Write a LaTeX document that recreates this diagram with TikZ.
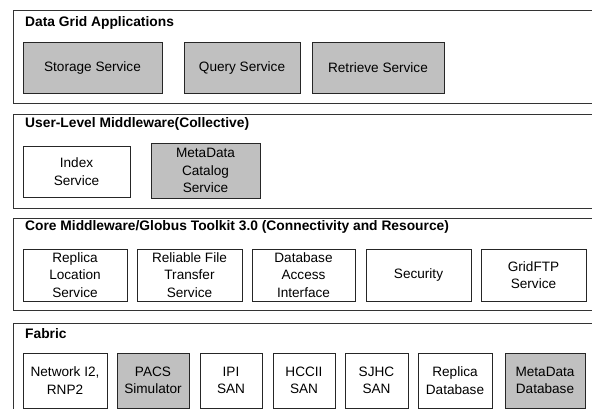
\documentclass[tikz,border=0pt]{standalone}
\usepackage{fontspec}
\setmainfont{Liberation Sans}
\usepackage{tikz}
\usetikzlibrary{backgrounds}
\definecolor{boxgray}{RGB}{192,192,192}
\tikzset{
  layer/.style={draw=black!80, line width=0.9pt, inner sep=0pt},
  layertitle/.style={anchor=west, inner sep=0pt, font=\bfseries\fontsize{13.8}{16}\selectfont},
  svc/.style={draw=black!85, line width=0.8pt, inner sep=0pt, align=center,
    font=\fontsize{13.6}{17.5}\selectfont},
  gsvc/.style={svc, fill=boxgray}
}

\begin{document}
\begin{tikzpicture}[x=1pt,y=-1pt]
\useasboundingbox (0,0) rectangle (592,409);
\clip (0,0) rectangle (592,409);
% the four layers
\node[layer, minimum width=587pt, minimum height=93pt] (apps) at (306.5,56.5) {};
\node[layer, minimum width=587pt, minimum height=94pt] (user) at (306.5,161) {};
\node[layer, minimum width=587pt, minimum height=92pt] (core) at (306.5,264.5) {};
\node[layer, minimum width=587pt, minimum height=98pt] (fabric) at (306.5,372) {};
\node[layertitle] (appst) at (25,23) {Data Grid Applications};
\node[layertitle] (usert) at (25,124) {User-Level Middleware(Collective)};
\node[layertitle] (coret) at (25,227) {Core Middleware/Globus Toolkit 3.0 (Connectivity and Resource)};
\node[layertitle] (fabrict) at (25,334) {Fabric};
% applications
\node[gsvc, minimum width=139pt, minimum height=51pt] (storage) at (92.5,67.5) {Storage Service};
\node[gsvc, minimum width=116pt, minimum height=51pt] (query) at (242,67.5) {Query Service};
\node[gsvc, minimum width=132pt, minimum height=51pt] (retrieve) at (378,67.5) {Retrieve Service};
% collective
\node[svc, minimum width=107pt, minimum height=51pt] (index) at (76.5,171.5) {Index\\Service};
\node[gsvc, minimum width=109pt, minimum height=55pt] (mdcat) at (205.5,170.5) {MetaData\\Catalog\\Service};
% connectivity and resource
\node[svc, minimum width=104pt, minimum height=52pt] (rls) at (75,275) {Replica\\Location\\Service};
\node[svc, minimum width=105pt, minimum height=52pt] (rft) at (189.5,275) {Reliable File\\Transfer\\Service};
\node[svc, minimum width=103pt, minimum height=52pt] (dai) at (303.5,275) {Database\\Access\\Interface};
\node[svc, minimum width=105pt, minimum height=52pt] (sec) at (418.5,275) {Security};
\node[svc, minimum width=105pt, minimum height=52pt] (gftp) at (533.5,275) {GridFTP\\Service};
% fabric
\node[svc, minimum width=84pt, minimum height=55pt] (net) at (65,380.5) {Network I2,\\RNP2};
\node[gsvc, minimum width=72pt, minimum height=55pt] (pacs) at (153,380.5) {PACS\\Simulator};
\node[svc, minimum width=62pt, minimum height=55pt] (ipi) at (231,380.5) {IPI\\SAN};
\node[svc, minimum width=62pt, minimum height=55pt] (hccii) at (304,380.5) {HCCII\\SAN};
\node[svc, minimum width=63pt, minimum height=55pt] (sjhc) at (376.5,380.5) {SJHC\\SAN};
\node[svc, minimum width=74pt, minimum height=55pt] (repdb) at (455,380.5) {Replica\\Database};
\node[gsvc, minimum width=80pt, minimum height=55pt] (mddb) at (545,380.5) {MetaData\\Database};
\end{tikzpicture}
\end{document}
